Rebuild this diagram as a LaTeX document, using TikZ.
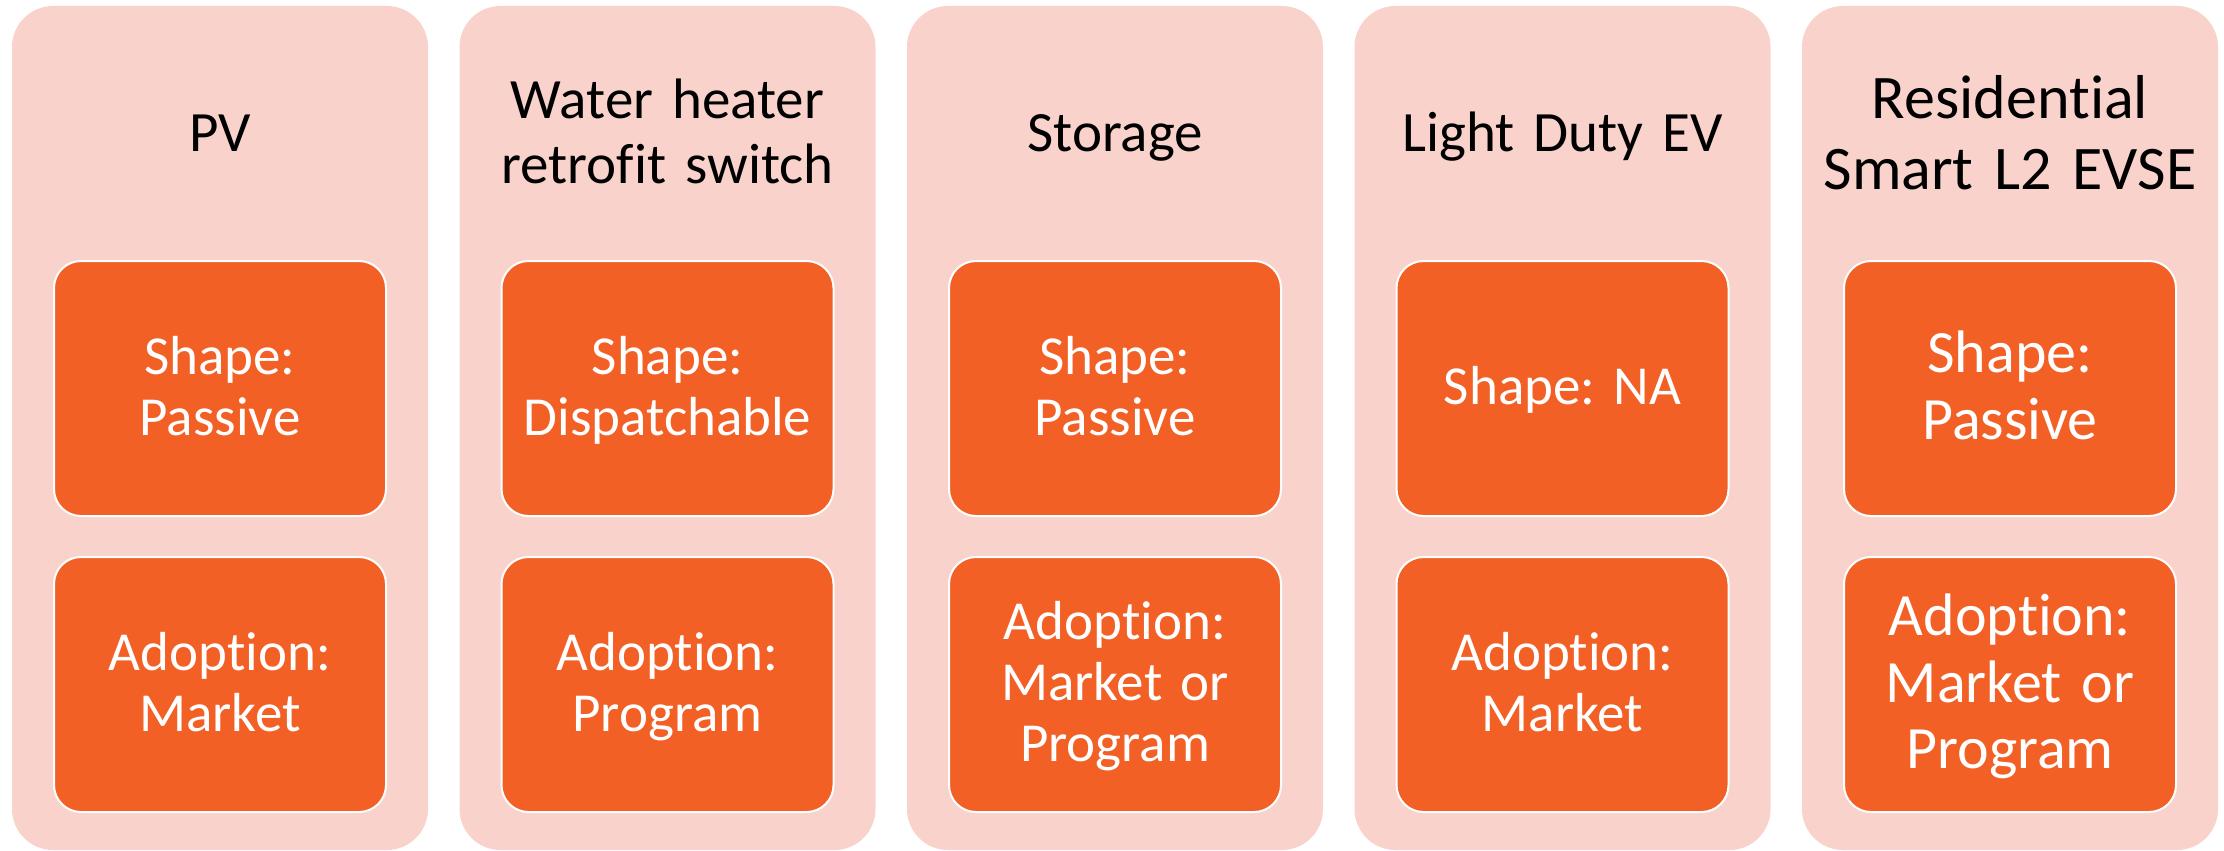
\documentclass[tikz,border=0pt]{standalone}
\usepackage{fontspec}
\setmainfont{Carlito}[Ligatures=NoCommon]
\frenchspacing
\definecolor{pinkbg}{HTML}{F8D2CB}
\definecolor{orangebox}{HTML}{F26026}
\newcommand\topst{\rule{0pt}{.83\baselineskip}}
\newcommand\botst{\rule[-.3\baselineskip]{0pt}{.3\baselineskip}}
\tikzset{
  outerbox/.style={fill=pinkbg, draw=none, rounded corners=41pt, minimum width=416pt,
    minimum height=844pt, inner sep=0pt, outer sep=0pt, anchor=north west},
  innerbox/.style={fill=orangebox, draw=white, line width=2pt, rounded corners=27pt,
    minimum width=332pt, minimum height=255pt, inner sep=0pt, outer sep=0pt,
    text width=324pt, align=center, text=white, font=\fontsize{55}{61}\selectfont,
    anchor=north west},
  bigin/.style={font=\fontsize{60}{66.5}\selectfont},
  titletext/.style={text width=404pt, align=center, inner sep=0pt, text=black,
    font=\fontsize{57}{65}\selectfont},
  bigtitle/.style={font=\fontsize{62}{71}\selectfont},
}
\begin{document}
\begin{tikzpicture}[x=1pt,y=-1pt]
\useasboundingbox (0,0) rectangle (2224,851);
% column 1
\node[outerbox] (c1) at (12,6) {};
\node[titletext] (t1) at (220,138) {\strut PV\strut};
\node[innerbox] (s1) at (54,261) {\topst Shape:\\Passive\botst};
\node[innerbox] (a1) at (54,557) {\topst Adoption:\\Market\botst};
% column 2
\node[outerbox] (c2) at (459.5,6) {};
\node[titletext] (t2) at (667.5,138) {\strut Water heater\\retrofit switch\strut};
\node[innerbox] (s2) at (501.5,261) {\topst Shape:\\Dispatchable\botst};
\node[innerbox] (a2) at (501.5,557) {\topst Adoption:\\Program\botst};
% column 3
\node[outerbox] (c3) at (907,6) {};
\node[titletext] (t3) at (1115,138) {\strut Storage\strut};
\node[innerbox] (s3) at (949,261) {\topst Shape:\\Passive\botst};
\node[innerbox] (a3) at (949,557) {\topst Adoption:\\Market or\\Program\botst};
% column 4
\node[outerbox] (c4) at (1354.5,6) {};
\node[titletext] (t4) at (1562.5,138) {\strut Light Duty EV\strut};
\node[innerbox] (s4) at (1396.5,261) {\topst Shape: NA\botst};
\node[innerbox] (a4) at (1396.5,557) {\topst Adoption:\\Market\botst};
% column 5
\node[outerbox] (c5) at (1802,6) {};
\node[titletext, bigtitle] (t5) at (2010,140) {\strut Residential\\Smart L2 EVSE\strut};
\node[innerbox, bigin] (s5) at (1844,261) {\topst Shape:\\Passive\botst};
\node[innerbox, bigin] (a5) at (1844,557) {\topst Adoption:\\Market or\\Program\botst};
\end{tikzpicture}
\end{document}
